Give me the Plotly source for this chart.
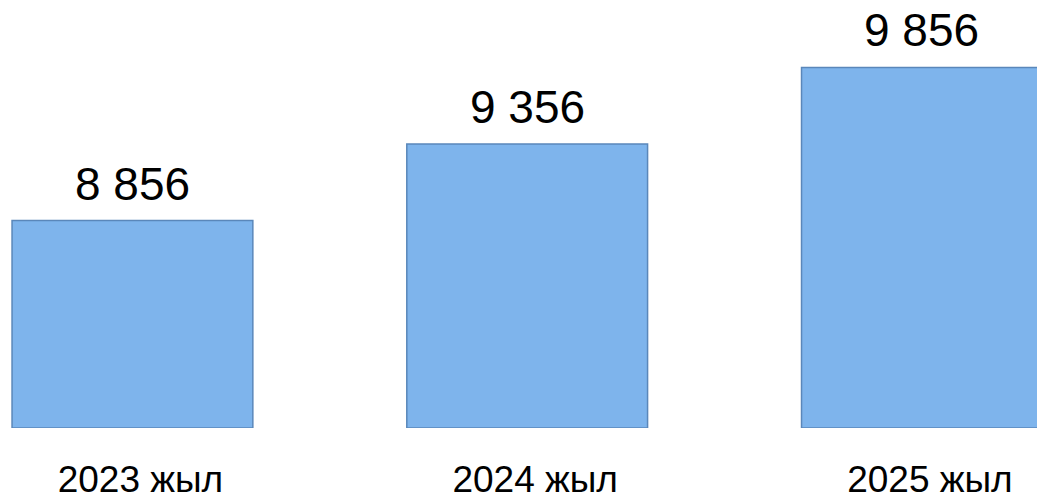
import plotly.graph_objects as go

categories = ["2023 жыл", "2024 жыл", "2025 жыл"]
values = [8856, 9356, 9856]

AXIS_BASE = 7500
Y_TOP = 10297

def fmt(v):
    return f"{v:,}".replace(",", " ")

fig = go.Figure()
fig.add_trace(go.Bar(
    x=categories,
    y=[v - AXIS_BASE for v in values],
    base=AXIS_BASE,
    width=0.61,
    marker=dict(color="#7EB4EC", line=dict(color="#5A87BA", width=1.5)),
    hoverinfo="skip",
))

for c, v in zip(categories, values):
    fig.add_annotation(
        x=c, y=v, text=fmt(v), showarrow=False,
        yanchor="bottom", yshift=10, borderpad=0,
        font=dict(family="Liberation Sans, Arial", size=46, color="#000000"),
    )

fig.update_layout(
    width=1037, height=501,
    margin=dict(l=0, r=0, t=0, b=73),
    paper_bgcolor="#ffffff", plot_bgcolor="#ffffff",
    showlegend=False,
    xaxis=dict(
        type="category",
        range=[-0.3355, 2.2915],
        showgrid=False, zeroline=False, showline=False, ticks="",
        tickfont=dict(family="Liberation Sans, Arial", size=37, color="#000000"),
        ticklabelshift=8,
        ticklabelstandoff=26,
        automargin=False,
    ),
    yaxis=dict(
        range=[AXIS_BASE, Y_TOP],
        visible=False, showgrid=False, zeroline=False,
    ),
)

fig.write_html(
    "out.html",
    config={"displayModeBar": False},
    post_script="document.body.style.margin='0';document.body.style.overflow='hidden';",
)
